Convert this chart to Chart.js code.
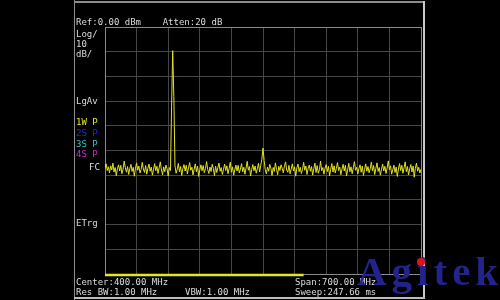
<!DOCTYPE html>
<html>
<head>
<meta charset="utf-8">
<script src="https://cdn.jsdelivr.net/npm/chart.js@4.4.1/dist/chart.umd.min.js"></script>
<style>
  html, body { margin: 0; padding: 0; background: #000; }
  #wrap { position: relative; width: 500px; height: 300px; background: #000; overflow: hidden; }
  #c { position: absolute; left: 0; top: 0; }
  .t { position: absolute; font-family: "DejaVu Sans Mono", monospace; font-size: 9px; line-height: 10px; height: 10px; color: #dcdcdc; white-space: pre; }
  .ln { position: absolute; }
  #wm { position: absolute; left: 357px; top: 251px; font-family: "Liberation Serif", serif; font-weight: bold; font-size: 41px; line-height: 40px; color: #23238c; letter-spacing: 5px; white-space: pre; }
  #dot { position: absolute; left: 417px; top: 258px; width: 8px; height: 8px; border-radius: 50%; background: #e01414; }
</style>
</head>
<body>
<div id="wrap">
  <canvas id="c" width="500" height="300"></canvas>
  <div class="ln" style="left:74px;top:0;width:1px;height:300px;background:#8c8c8c"></div>
  <div class="ln" style="left:74px;top:1px;width:350px;height:2px;background:#8c8c8c"></div>
  <div class="ln" style="left:423px;top:1px;width:2px;height:298px;background:#c8c8c8"></div>
  <div class="ln" style="left:74px;top:297px;width:351px;height:2px;background:#bdbdbd"></div>

  <div class="t" style="left:76px;top:17px">Ref:0.00 dBm    Atten:20 dB</div>
  <div class="t" style="left:76px;top:29px">Log/</div>
  <div class="t" style="left:76px;top:39px">10</div>
  <div class="t" style="left:76px;top:49px">dB/</div>
  <div class="t" style="left:76px;top:96px">LgAv</div>
  <div class="t" style="left:76px;top:117px;color:#e6e619">1W P</div>
  <div class="t" style="left:76px;top:128px;color:#2626e0">2S P</div>
  <div class="t" style="left:76px;top:138.5px;color:#26c8c8">3S P</div>
  <div class="t" style="left:76px;top:149px;color:#d026d0">4S P</div>
  <div class="t" style="left:89px;top:162px">FC</div>
  <div class="t" style="left:76px;top:218px">ETrg</div>
  <div class="t" style="left:76px;top:277px">Center:400.00 MHz</div>
  <div class="t" style="left:76px;top:287px">Res BW:1.00 MHz</div>
  <div class="t" style="left:185px;top:287px">VBW:1.00 MHz</div>
  <div class="t" style="left:295px;top:277px">Span:700.00 MHz</div>
  <div class="t" style="left:295px;top:287px">Sweep:247.66 ms</div>

  <div id="wm">Agitek</div>
  <div id="dot"></div>
</div>
<script>
// ---- data ----
const startMHz = 50;
const stopMHz = 750;
const stepMHz = 2.5;
const refLevel = 0;        // dBm
const bottomLevel = -100;  // dBm (10 div x 10 dB)
const sweepMarkMHz = 490;  // sweep progress indicator

// trace levels (dBm), one per 2.5 MHz from 50 to 750 MHz
const levels = [
  -57.2,-55.4,-58.1,-56.6,-59.0,-56.2,-57.9,-55.1,-58.7,-56.9,
  -60.2,-57.4,-55.8,-58.3,-56.0,-59.4,-57.6,-54.3,-57.0,-58.8,
  -56.5,-59.7,-57.3,-55.6,-58.5,-56.8,-60.4,-57.1,-55.0,-58.0,
  -56.3,-59.1,-57.7,-54.8,-57.5,-58.9,-56.1,-59.6,-57.2,-55.5,
  -58.4,-56.7,-60.0,-57.8,-55.3,-58.2,-56.4,-59.3,-57.0,-54.6,
  -57.9,-59.8,-56.6,-58.6,-55.9,-57.4,-60.3,-56.9,-58.1,-32.3,
  -9.6,-28.2,-56.2,-59.2,-57.6,-55.2,-58.7,-56.5,-60.1,-57.3,
  -55.7,-58.3,-56.0,-59.5,-57.1,-54.9,-58.0,-56.8,-59.9,-57.5,
  -55.4,-58.6,-56.3,-60.5,-57.8,-55.8,-58.2,-56.1,-59.0,-57.4,
  -54.5,-57.7,-59.3,-56.7,-58.5,-55.6,-57.2,-60.2,-56.4,-58.9,
  -57.0,-55.1,-58.4,-56.9,-59.7,-57.6,-55.5,-58.1,-56.2,-59.4,
  -57.3,-54.7,-58.8,-56.6,-60.0,-57.9,-55.9,-58.3,-56.0,-59.1,
  -57.5,-55.3,-58.6,-56.8,-59.6,-57.1,-54.4,-58.0,-56.5,-60.3,
  -57.7,-55.7,-58.2,-56.3,-59.2,-57.4,-55.2,-58.7,-56.1,-53.5,
  -49.0,-54.0,-57.8,-59.5,-56.7,-58.4,-55.6,-57.2,-60.1,-56.9,
  -58.5,-55.0,-57.6,-59.8,-56.4,-58.1,-55.8,-57.3,-59.0,-56.2,
  -54.6,-57.9,-58.8,-56.0,-59.4,-57.5,-55.4,-58.3,-56.6,-60.4,
  -57.0,-55.5,-58.6,-56.8,-59.3,-57.7,-54.8,-58.0,-56.3,-59.7,
  -57.2,-55.9,-58.4,-56.5,-60.0,-57.4,-55.1,-58.9,-56.1,-59.2,
  -57.8,-54.3,-58.2,-56.9,-59.6,-57.1,-55.7,-58.5,-56.4,-60.2,
  -57.6,-55.3,-58.7,-56.2,-59.1,-57.3,-54.9,-58.1,-56.7,-59.8,
  -57.5,-55.6,-58.3,-56.0,-60.3,-57.9,-55.2,-58.6,-56.6,-59.4,
  -57.0,-54.5,-58.0,-56.8,-59.5,-57.2,-55.8,-58.8,-56.3,-60.1,
  -57.7,-55.4,-58.4,-56.5,-59.0,-57.4,-54.7,-58.2,-56.1,-59.7,
  -57.3,-55.0,-58.5,-56.9,-60.0,-57.6,-55.5,-58.3,-56.4,-59.3,
  -57.1,-54.2,-57.8,-56.2,-59.6,-57.8,-55.9,-58.9,-56.7,-60.5,
  -57.5,-55.3,-58.1,-56.0,-59.2,-57.0,-54.6,-58.6,-56.5,-59.9,
  -57.4,-55.7,-58.7,-56.3,-60.8,-57.2,-55.1,-58.4,-56.8,-59.1,
  -57.6
];
const freqs = levels.map((_, i) => startMHz + i * stepMHz);

const points = freqs.map((f, i) => ({ x: f, y: levels[i] }));

const gridColor = (ctx) => (ctx.index === 0 || ctx.index === 10) ? '#8a8a8a' : '#464646';

const sweepBar = {
  id: 'sweepBar',
  afterDraw(chart) {
    const { ctx, chartArea } = chart;
    const xs = chart.scales.x;
    ctx.save();
    ctx.strokeStyle = '#e6e619';
    ctx.lineWidth = 2.5;
    ctx.beginPath();
    ctx.moveTo(chartArea.left, chartArea.bottom + 1);
    ctx.lineTo(xs.getPixelForValue(sweepMarkMHz), chartArea.bottom + 1);
    ctx.stroke();
    ctx.restore();
  }
};

new Chart(document.getElementById('c'), {
  type: 'line',
  data: {
    datasets: [{
      data: points,
      borderColor: '#e2e21e',
      borderWidth: 1,
      pointRadius: 0,
      tension: 0,
      fill: false
    }]
  },
  options: {
    responsive: false,
    animation: false,
    events: [],
    layout: { padding: { left: 105, top: 27, right: 79, bottom: 26 } },
    plugins: { legend: { display: false }, tooltip: { enabled: false } },
    scales: {
      x: {
        type: 'linear', min: startMHz, max: stopMHz,
        ticks: { display: false, stepSize: 70 },
        grid: { color: gridColor, drawTicks: false, lineWidth: 1 },
        border: { color: '#8a8a8a' }
      },
      y: {
        type: 'linear', min: bottomLevel, max: refLevel,
        ticks: { display: false, stepSize: 10 },
        grid: { color: gridColor, drawTicks: false, lineWidth: 1 },
        border: { color: '#8a8a8a' }
      }
    }
  },
  plugins: [sweepBar]
});
</script>
</body>
</html>
